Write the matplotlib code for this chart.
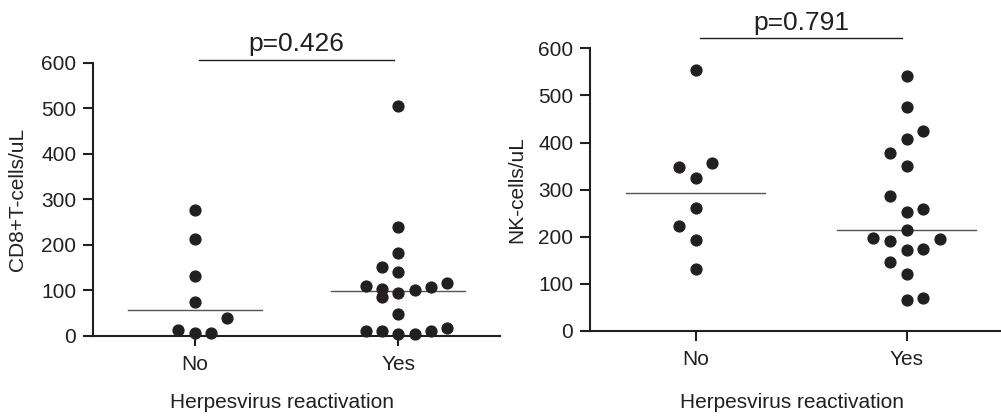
import matplotlib.pyplot as plt
import numpy as np

plt.rcParams['font.family'] = ['Liberation Sans', 'DejaVu Sans']

groups = ['No', 'Yes']

# CD8+ T cells (left panel): values and horizontal jitter slot per point
cd8_no = [276, 213, 132, 75, 40, 12, 5, 5]
cd8_no_slot = [0, 0, 0, 0, 2, -1, 0, 1]
cd8_yes = [504, 238, 181, 152, 141, 109, 103, 93, 100, 106, 116, 84, 48, 10, 10, 3, 3, 10, 18]
cd8_yes_slot = [0, 0, 0, -1, 0, -2, -1, 0, 1, 2, 3, -1, 0, -2, -1, 0, 1, 2, 3]
cd8_median = [56, 99]
cd8_p = 'p=0.426'

# NK cells (right panel)
nk_no = [553, 356, 349, 324, 261, 222, 193, 132]
nk_no_slot = [0, 1, -1, 0, 0, -1, 0, 0]
nk_yes = [541, 475, 424, 407, 377, 350, 287, 253, 259, 214, 197, 191, 196, 171, 175, 146, 121, 66, 71]
nk_yes_slot = [0, 0, 1, 0, -1, 0, -1, 0, 1, 0, -2, -1, 2, 0, 1, -1, 0, 0, 1]
nk_median = [292, 214]
nk_p = 'p=0.791'

ink = '#231f20'
slot_w = 0.08

W, H = 1001, 417
fig = plt.figure(figsize=(W / 100, H / 100), dpi=100)
ax1 = fig.add_axes([93 / W, (H - 335.7) / H, 407 / W, 273 / H])
ax2 = fig.add_axes([590 / W, (H - 331) / H, 422 / W, 282.7 / H])


def panel(ax, no, no_slot, yes, yes_slot, med, ptxt, pline_y, ylabel, ylab_x, xlab_y):
    for i, (vals, slots) in enumerate([(no, no_slot), (yes, yes_slot)]):
        xs = i + np.array(slots) * slot_w
        ax.plot(xs, vals, 'o', color=ink, markersize=7.8, linestyle='None', clip_on=False, zorder=3)
        ax.plot([i - 0.33, i + 0.33], [med[i], med[i]], color='#555555', lw=1.0, zorder=2)
    ax.set_xlim(-0.5, 1.5)
    ax.set_ylim(0, 600)
    ax.set_yticks(range(0, 601, 100))
    ax.set_xticks([0, 1])
    ax.set_xticklabels(groups)
    for s in ['top', 'right']:
        ax.spines[s].set_visible(False)
    for s in ['left', 'bottom']:
        ax.spines[s].set_linewidth(1.5)
        ax.spines[s].set_color(ink)
    ax.tick_params(axis='both', direction='out', length=7, width=1.5, color=ink,
                   labelcolor=ink, labelsize=15)
    ax.tick_params(axis='y', pad=5)
    ax.tick_params(axis='x', pad=7)
    # significance bar
    ax.plot([0.02, 0.98], [pline_y, pline_y], color=ink, lw=1.0, clip_on=False)
    ax.text(0.5, pline_y + 8, ptxt, ha='center', va='bottom', fontsize=19, color=ink)
    ax.text(ylab_x, 0.5, ylabel, rotation=90, ha='center', va='center', fontsize=15,
            color=ink, transform=ax.transAxes)
    ax.text(xlab_y[0], xlab_y[1], 'Herpesvirus reactivation', ha='center', va='center',
            fontsize=15, color=ink, transform=ax.transAxes)


panel(ax1, cd8_no, cd8_no_slot, cd8_yes, cd8_yes_slot, cd8_median, cd8_p, 607,
      'CD8+T-cells/uL', (18 - 93) / 407, ((282 - 93) / 407, (335.7 - 403) / 273))
panel(ax2, nk_no, nk_no_slot, nk_yes, nk_yes_slot, nk_median, nk_p, 621,
      'NK-cells/uL', (517 - 590) / 422, ((792 - 590) / 422, (331 - 403) / 282.7))

fig.savefig('out.png', dpi=100)
